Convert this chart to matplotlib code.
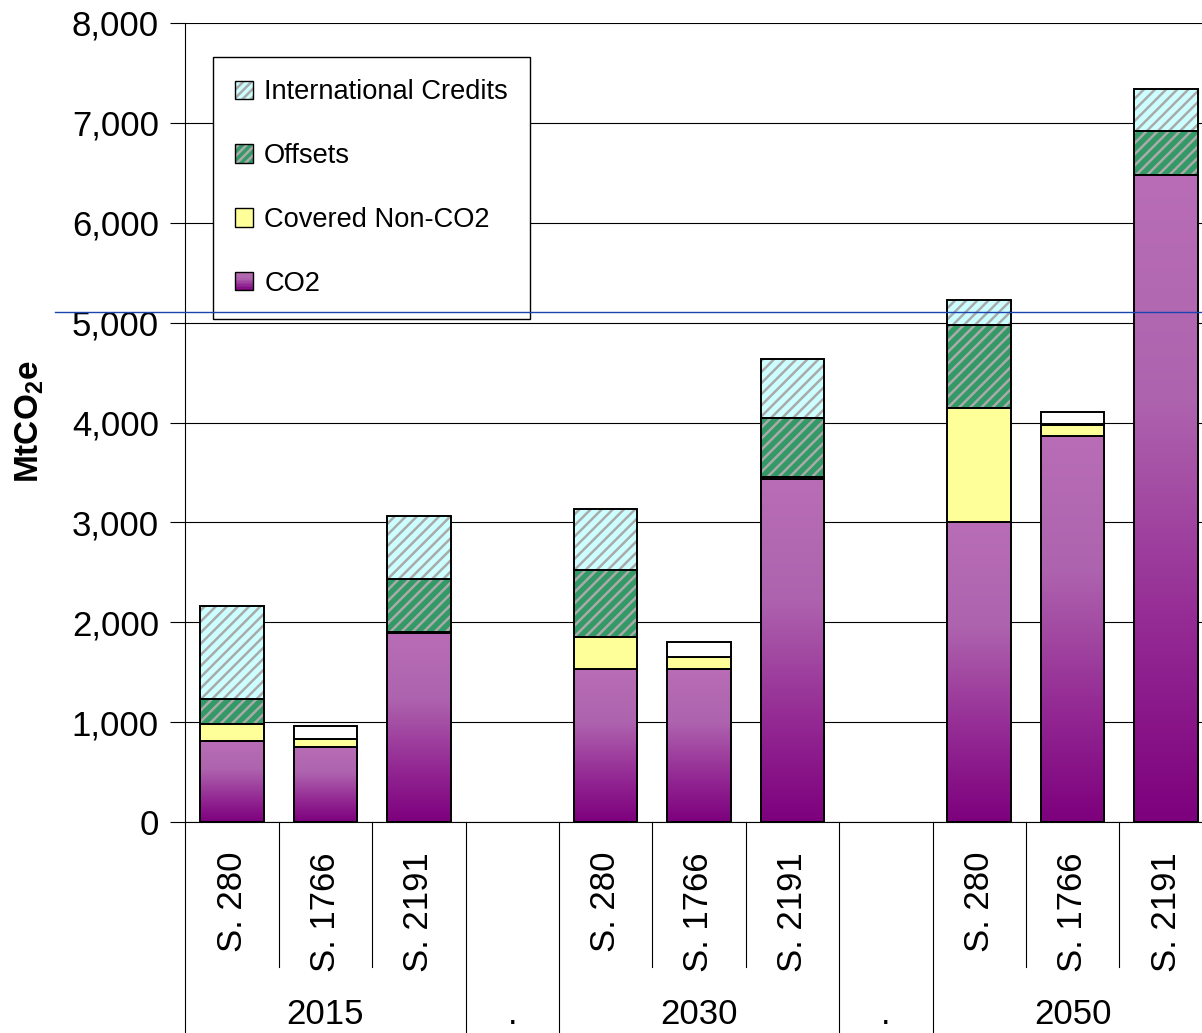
import numpy as np
import matplotlib.pyplot as plt
from matplotlib.patches import Patch, Rectangle
from matplotlib.colors import LinearSegmentedColormap
from matplotlib.legend_handler import HandlerBase, HandlerTuple
from matplotlib.transforms import blended_transform_factory

plt.rcParams['font.family'] = ['Liberation Sans', 'DejaVu Sans']
plt.rcParams['mathtext.fontset'] = 'custom'
plt.rcParams['mathtext.rm'] = 'Liberation Sans'
plt.rcParams['mathtext.bf'] = 'Liberation Sans:bold'
plt.rcParams['hatch.linewidth'] = 1.8

# Allowance supply by bill and year (MtCO2e)
groups = ['2015', '.', '2030', '.', '2050']
group_sizes = [3, 1, 3, 1, 3]
bills = ['S. 280', 'S. 1766', 'S. 2191']

co2 = [811, 754, 1890, 1532, 1532, 3432, 3003, 3867, 6480]
non_co2 = [170, 74, 15, 320, 123, 25, 1144, 110, 0]
offsets = [250, 0, 527, 676, 0, 587, 833, 10, 437]
intl = [931, 0, 631, 605, 0, 591, 245, 0, 427]
other = [0, 133, 0, 0, 147, 0, 0, 120, 0]

ref_level = 5105

# slot positions: one empty slot between year groups
xpos = []
slot = 0
for g, n in zip(groups, group_sizes):
    if g != '.':
        xpos.extend(range(slot, slot + n))
    slot += n
xpos = np.array(xpos)
n_slots = slot

W, H = 1202, 1033
fig = plt.figure(figsize=(W / 100, H / 100), dpi=100)
ax = fig.add_axes([185.3 / W, (H - 822) / H, 1027.4 / W, (822 - 23) / H])

bw = 0.68
edge_lw = 1.4
purple = LinearSegmentedColormap.from_list(
    'co2', [(0.0, '#b86db6'), (0.35, '#ae63ae'), (0.7, '#942a94'), (1.0, '#7d007d')])
grad = np.linspace(0, 1, 256).reshape(-1, 1)

# CO2 bars with vertical gradient
for x, v in zip(xpos, co2):
    ax.imshow(grad, cmap=purple, aspect='auto', interpolation='bilinear',
              extent=(x - bw / 2, x + bw / 2, 0, v), zorder=2)
    ax.bar(x, v, bw, facecolor='none', edgecolor='black', lw=edge_lw, zorder=3)

bottom = np.array(co2, dtype=float)


def stack(vals, face, hatch=None):
    global bottom
    vals = np.array(vals, dtype=float)
    m = vals > 0
    if hatch:
        ax.bar(xpos[m], vals[m], bw, bottom=bottom[m], facecolor=face,
               edgecolor='#aaaaaa', lw=0, hatch=hatch, zorder=2)
        ax.bar(xpos[m], vals[m], bw, bottom=bottom[m], facecolor='none',
               edgecolor='black', lw=edge_lw, zorder=3)
    else:
        ax.bar(xpos[m], vals[m], bw, bottom=bottom[m], facecolor=face,
               edgecolor='black', lw=edge_lw, zorder=3)
    bottom = bottom + vals


stack(non_co2, '#ffff99')
stack(offsets, '#339966', '///')
stack(intl, '#ccffff', '///')
stack(other, 'white')

ax.set_xlim(-0.5, n_slots - 0.5)
ax.set_ylim(0, 8000)
ax.set_yticks(np.arange(0, 8001, 1000))
ax.set_yticklabels([f'{v:,}' for v in range(0, 8001, 1000)], fontsize=25)
ax.tick_params(axis='y', direction='out', length=11, width=0.8, pad=8)
ax.set_xticks([])
ax.yaxis.grid(True, color='black', lw=0.8)
ax.set_axisbelow(True)
for s in ['top', 'right']:
    ax.spines[s].set_visible(False)
ax.spines['left'].set_linewidth(0.8)
ax.spines['bottom'].set_linewidth(0.8)

fig.text(30 / W, 1 - 422 / H, r'MtCO$_\mathbf{2}$e', rotation=90, ha='center',
         va='center', fontsize=24, fontweight='bold')

# two-level category axis below the plot
tr = blended_transform_factory(ax.transData, fig.transFigure)
y_axis = (H - 822) / H
y_short = (H - 967) / H
slot = 0
for g, n in zip(groups, group_sizes):
    ax.plot([slot - 0.5] * 2, [y_axis, 0], transform=tr, color='black',
            lw=0.8, clip_on=False)
    if g != '.':
        for k in range(1, n):
            ax.plot([slot + k - 0.5] * 2, [y_axis, y_short], transform=tr,
                    color='black', lw=0.8, clip_on=False)
        for k, b in enumerate(bills):
            ax.text(slot + k, (H - 852) / H, b, transform=tr, rotation=90,
                    ha='center', va='top', fontsize=25)
    ax.text(slot + (n - 1) / 2, (H - 1024) / H, g, transform=tr, ha='center',
            va='baseline', fontsize=25)
    slot += n
ax.plot([slot - 0.5] * 2, [y_axis, 0], transform=tr, color='black',
        lw=0.8, clip_on=False)

# reference line across the plot
tr2 = blended_transform_factory(fig.transFigure, ax.transData)
ax.plot([55 / W, 1.0], [ref_level, ref_level], transform=tr2, color='#1a44b0',
        lw=1.0, clip_on=False, zorder=10)


class GradientHandler(HandlerBase):
    def create_artists(self, legend, orig_handle, xdescent, ydescent, width,
                       height, fontsize, trans):
        arts = []
        n = 12
        for i in range(n):
            c = purple(1 - (i + 0.5) / n)
            arts.append(Rectangle((-xdescent, -ydescent + i * height / n), width,
                                  height / n, facecolor=c, edgecolor='none',
                                  transform=trans))
        arts.append(Rectangle((-xdescent, -ydescent), width, height,
                              facecolor='none', edgecolor='black', lw=1.0,
                              transform=trans))
        return arts


def hatched(face):
    return (Patch(facecolor=face, edgecolor='#aaaaaa', lw=0, hatch='////'),
            Patch(facecolor='none', edgecolor='black', lw=1.0))


co2_handle = Patch(facecolor='#a04aa0')
handles = [hatched('#ccffff'), hatched('#339966'),
           Patch(facecolor='#ffff99', edgecolor='black', lw=1.0), co2_handle]
labels = ['International Credits', 'Offsets', 'Covered Non-CO2', 'CO2']
leg = ax.legend(handles, labels, loc='upper left',
                bbox_to_anchor=(213 / W, 1 - 57 / H), bbox_transform=fig.transFigure,
                borderaxespad=0, fontsize=19.6, handlelength=0.66, handleheight=0.66,
                handletextpad=0.4, labelspacing=1.39, borderpad=0.82,
                fancybox=False, framealpha=1, edgecolor='black',
                handler_map={tuple: HandlerTuple(ndivide=1, pad=0),
                             co2_handle: GradientHandler()})
leg.get_frame().set_linewidth(1.0)
leg.set_zorder(5)

fig.savefig('out.png', dpi=100)
